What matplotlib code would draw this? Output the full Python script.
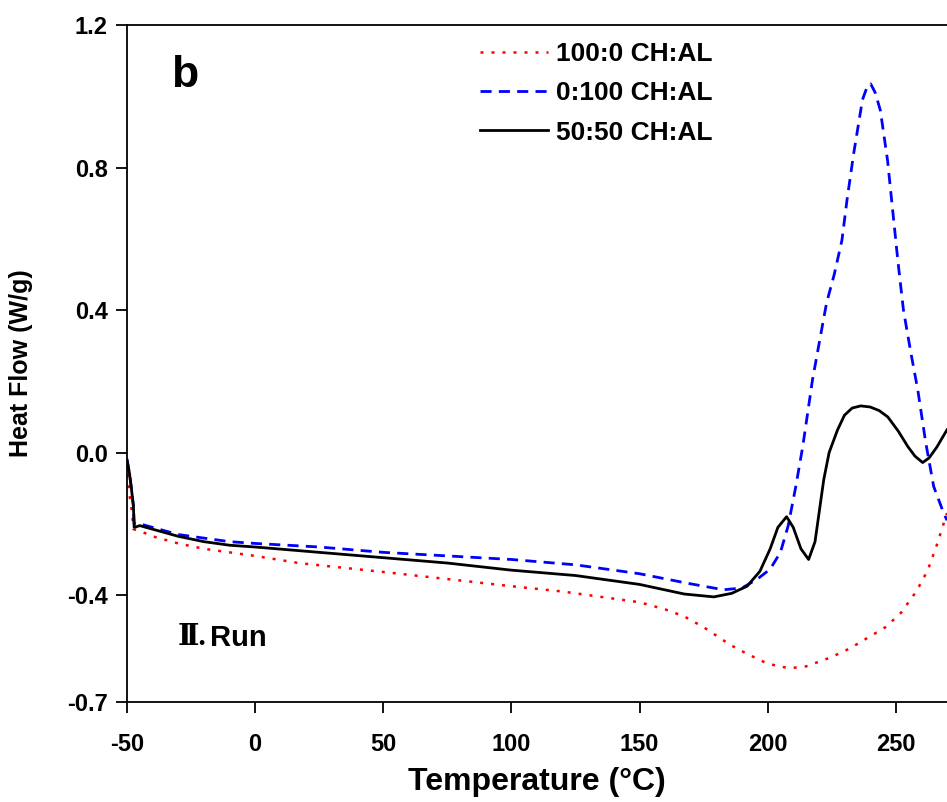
import matplotlib
matplotlib.use("Agg")
import matplotlib.pyplot as plt

# 100:0 CH:AL (red, dotted)
t_ch = [-50, -49, -48, -47.5, -45, -40, -30, -20, -10, 0, 17, 30, 50, 75, 100, 120, 130, 140,
        150, 160, 167.5, 175, 185.5, 192, 198.4, 204, 209, 215, 224.6, 232, 239, 246, 252,
        258, 262.5, 266, 270]
v_ch = [-0.03, -0.12, -0.17, -0.215, -0.22, -0.235, -0.255, -0.27, -0.28, -0.29, -0.31, -0.32,
        -0.335, -0.355, -0.375, -0.39, -0.40, -0.41, -0.42, -0.44, -0.46, -0.49, -0.54, -0.565,
        -0.587, -0.60, -0.605, -0.60, -0.575, -0.55, -0.52, -0.49, -0.45, -0.39, -0.33, -0.26,
        -0.17]

# 0:100 CH:AL (blue, dashed)
t_al = [-50, -49, -48.3, -47.5, -47.2, -45, -40, -30, -20, -10, 0, 25, 50, 75, 100, 125, 150,
        167.5, 175, 182.8, 190, 196, 201, 205, 208, 211, 213.7, 215.6, 217.5, 220.7, 223, 226,
        229, 231, 233.6, 237, 239, 240.2, 242, 244, 246.8, 248.8, 250.8, 253, 255.9, 258.6,
        261.7, 264.8, 268.7, 270]
v_al = [-0.02, -0.06, -0.10, -0.15, -0.20, -0.20, -0.21, -0.23, -0.24, -0.25, -0.255, -0.265,
        -0.28, -0.29, -0.30, -0.315, -0.34, -0.365, -0.375, -0.385, -0.38, -0.355, -0.327, -0.28,
        -0.206, -0.095, 0.017, 0.11, 0.204, 0.33, 0.42, 0.50, 0.596, 0.71, 0.84, 0.99, 1.03,
        1.035, 1.01, 0.96, 0.82, 0.68, 0.54, 0.40, 0.28, 0.176, 0.028, -0.095, -0.17, -0.19]

# 50:50 CH:AL (black, solid)
t_mix = [-50, -49, -48.3, -47.5, -47.2, -45, -40, -30, -20, -10, 0, 25, 50, 75, 100, 125, 150,
         167.5, 179, 186, 192, 197, 201, 204, 207.4, 210, 213, 216, 218.5, 221.9, 224, 227.3,
         230, 233, 236.3, 240, 243.5, 246.9, 251, 254.7, 257.5, 260.5, 263, 266, 270]
v_mix = [-0.02, -0.06, -0.10, -0.15, -0.21, -0.205, -0.215, -0.235, -0.25, -0.26, -0.265, -0.28,
         -0.295, -0.31, -0.33, -0.345, -0.37, -0.397, -0.405, -0.395, -0.375, -0.333, -0.27,
         -0.21, -0.18, -0.21, -0.27, -0.30, -0.25, -0.076, 0.0, 0.064, 0.105, 0.125, 0.131,
         0.128, 0.118, 0.10, 0.06, 0.017, -0.01, -0.028, -0.015, 0.015, 0.064]

x_ticks = [-50, 0, 50, 100, 150, 200, 250]
y_ticks = [-0.7, -0.4, 0.0, 0.4, 0.8, 1.2]
y_labels = ["-0.7", "-0.4", "0.0", "0.4", "0.8", "1.2"]

plt.rcParams['font.family'] = ['Liberation Sans', 'DejaVu Sans']
plt.rcParams['font.weight'] = 'bold'
plt.rcParams['axes.unicode_minus'] = False

fig = plt.figure(figsize=(9.47, 8.02), dpi=100)
ax = fig.add_axes([127 / 947, 100 / 802, 1 - 127 / 947, 677 / 802])

ax.plot(t_ch, v_ch, color='red', linestyle=(0, (1.2, 3.2)), linewidth=1.8,
        label="100:0 CH:AL")
ax.plot(t_al, v_al, color='blue', linestyle=(0, (4, 2.6)), linewidth=2.0,
        label="0:100 CH:AL")
ax.plot(t_mix, v_mix, color='black', linestyle='-', linewidth=2.0,
        label="50:50 CH:AL")

ax.set_xlim(-50, 270)
ax.set_ylim(-0.7, 1.2)
ax.set_xticks(x_ticks)
ax.set_yticks(y_ticks)
ax.set_yticklabels(y_labels)
ax.tick_params(direction='out', length=8, width=1.3, labelsize=17, pad=6)
ax.tick_params(axis='x', pad=14)
for s in ['left', 'bottom', 'top']:
    ax.spines[s].set_linewidth(1.3)
ax.spines['right'].set_visible(False)

ax.set_xlabel("Temperature (°C)", fontsize=23, fontweight='bold', labelpad=8)
ax.set_ylabel("Heat Flow (W/g)", fontsize=18, fontweight='bold', labelpad=24)

ax.text(0.054, 0.925, "b", transform=ax.transAxes, fontsize=32, fontweight='bold',
        ha='left', va='center')
ax.text(0.062, 0.095, "Ⅱ.", transform=ax.transAxes, fontsize=21, fontweight='bold',
        family=['Liberation Serif', 'DejaVu Serif'], ha='left', va='center')
ax.text(0.101, 0.095, "Run", transform=ax.transAxes, fontsize=21, fontweight='bold',
        ha='left', va='center')

ax.legend(loc='upper left', bbox_to_anchor=(0.43, 0.975), frameon=False,
          prop={'size': 19, 'weight': 'bold'}, handlelength=2.6, handletextpad=0.3,
          labelspacing=0.58, borderpad=0, borderaxespad=0)

fig.savefig("out.png", dpi=100)
